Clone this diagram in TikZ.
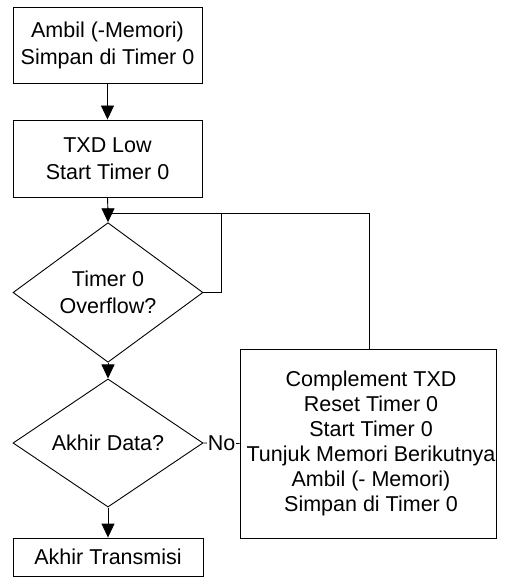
\documentclass[tikz,border=0pt]{standalone}
\usepackage{fontspec}
\setmainfont{Liberation Sans}
\usetikzlibrary{shapes.geometric,arrows.meta}
\begin{document}
\begin{tikzpicture}[x=1pt,y=-1pt,
  every node/.style={font=\fontsize{21.5}{27}\selectfont, align=center, inner sep=0pt},
  procbox/.style={draw, line width=0.9pt},
  decision/.style={draw, diamond, line width=0.9pt, minimum width=190pt, minimum height=113pt},
  conn/.style={line width=0.9pt},
  arr/.style={conn, -{Triangle[width=13pt,length=14pt]}}]
\useasboundingbox (0,0) rectangle (506,577);
\node[procbox, minimum width=189pt, minimum height=76pt] (b1) at (107.5,45) {Ambil (-Memori)\\Simpan di Timer 0};
\node[procbox, minimum width=189pt, minimum height=77pt] (b2) at (107.5,158.5) {TXD Low\\Start Timer 0};
\node[decision] (d1) at (108,292.5) {Timer 0\\Overflow?};
\node[decision, minimum height=112pt] (d2) at (108,443) {Akhir Data?};
\node[procbox, minimum width=190pt, minimum height=38pt] (b4) at (108,557) {Akhir Transmisi};
\node[procbox, minimum width=256pt, minimum height=189pt] (b3) at (368,443.5) {};
\node[font=\fontsize{21.5}{25}\selectfont] (t3) at (371,443) {Complement TXD\\Reset Timer 0\\Start Timer 0\\Tunjuk Memori Berikutnya\\Ambil (- Memori)\\Simpan di Timer 0};
\coordinate (j) at (108,213);
\coordinate (jr) at (221,213);
\coordinate (jf) at (369,213);
\coordinate (lp) at (221,292.5);
\draw[arr] (b1.south) -- (b2.north);
\draw[conn] (b2.south) -- (j);
\draw[arr] (j) -- (d1.north);
\draw[conn] (d1.east) -- (lp) -- (jr) -- (j);
\draw[conn] (b3.north -| jf) -- (jf) -- (jr);
\draw[arr] (d1.south) -- (d2.north);
\draw[arr] (d2.south) -- (b4.north);
\draw[conn] (d2.east) -- node[fill=white, inner xsep=1pt] (no) {No} (b3.west);
\end{tikzpicture}
\end{document}
